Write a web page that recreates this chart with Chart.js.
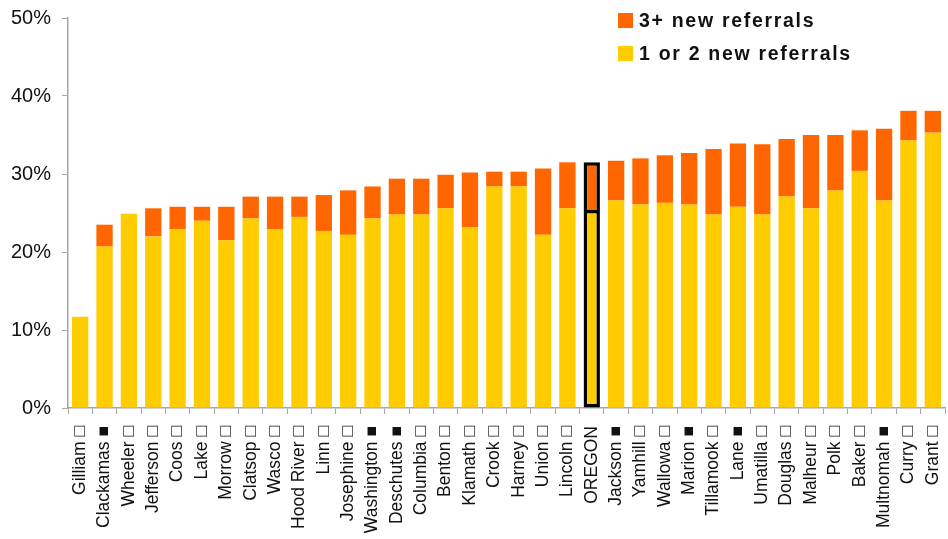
<!DOCTYPE html>
<html>
<head>
<meta charset="utf-8">
<script src="https://cdn.jsdelivr.net/npm/chart.js@4"></script>
<style>
body{margin:0;background:#fff;}
#wrap{position:relative;width:948px;height:539px;}
#legend{position:absolute;left:618px;top:4px;font-family:"Liberation Sans",Arial,sans-serif;font-weight:bold;font-size:19.5px;letter-spacing:1.7px;color:#111;}
#legend div{display:flex;align-items:center;height:33px;}
#legend span.box{display:inline-block;width:15px;height:15px;margin-right:6px;}
</style>
</head>
<body>
<div id="wrap">
<canvas id="chart" width="948" height="539"></canvas>
<div id="legend"></div>
</div>
<script>
// counties, ■ / □ markers as in the source chart
const categories = ["Gilliam □","Clackamas ■","Wheeler □","Jefferson □","Coos □","Lake □","Morrow □","Clatsop □","Wasco □","Hood River □",
"Linn □","Josephine □","Washington ■","Deschutes ■","Columbia □","Benton □","Klamath □","Crook □","Harney □","Union □",
"Lincoln □","OREGON","Jackson ■","Yamhill □","Wallowa □","Marion ■","Tillamook □","Lane ■","Umatilla □","Douglas □",
"Malheur □","Polk □","Baker □","Multnomah ■","Curry □","Grant □"]

const oneOrTwo = [11.7,20.7,24.9,22.0,22.9,24.0,21.5,24.3,22.9,24.5,
22.7,22.2,24.3,24.8,24.8,25.6,23.2,28.4,28.4,22.2,
25.6,25.4,26.6,26.1,26.3,26.1,24.8,25.8,24.8,27.1,
25.6,27.9,30.4,26.6,34.3,35.3]

const threePlus = [0,2.8,0,3.6,2.9,1.8,4.3,2.8,4.2,2.6,
4.6,5.7,4.1,4.6,4.6,4.3,7.0,1.9,1.9,8.5,
5.9,6.1,5.1,5.9,6.1,6.6,8.4,8.1,9.0,7.4,
9.4,7.1,5.2,9.2,3.8,2.8]

const yTicks = [0,10,20,30,40,50]

const highlight = "OREGON"
const borderCol = categories.map(c => c===highlight ? "#000" : "rgba(0,0,0,0)")
const borderW = categories.map(c => c===highlight ? 3.5 : 0)

const datasets = [
  {label:"1 or 2 new referrals",data:oneOrTwo,backgroundColor:"#FFCC00",borderColor:borderCol,borderWidth:borderW,borderSkipped:false},
  {label:"3+ new referrals",data:threePlus,backgroundColor:"#FF6600",borderColor:borderCol,borderWidth:borderW,borderSkipped:"start"}
]

// legend (top right, stacked), orange first
let html = ""
datasets.slice().reverse().forEach(d=>{
  html += `<div><span class="box" style="background:${d.backgroundColor}"></span>${d.label}</div>`
})
document.getElementById("legend").innerHTML = html

new Chart(document.getElementById("chart"),{
  type:"bar",
  data:{labels:categories,datasets:datasets},
  options:{
    responsive:false,
    animation:false,
    layout:{padding:{top:18,right:3,left:0,bottom:0}},
    plugins:{legend:{display:false},tooltip:{enabled:false}},
    datasets:{bar:{categoryPercentage:1,barPercentage:0.67}},
    scales:{
      x:{
        stacked:true,
        grid:{drawOnChartArea:false,drawTicks:true,tickLength:6,color:"#a6a6a6",offset:true},
        border:{display:true,color:"#a6a6a6",width:1.5},
        ticks:{autoSkip:false,maxRotation:90,minRotation:90,padding:12,color:"#111",
          font:{family:"'Liberation Sans', Arial, sans-serif",size:17.5}},
        afterFit:s=>{s.height=131;s.paddingLeft=0;s.paddingRight=0}
      },
      y:{
        stacked:true,min:0,max:50,
        afterBuildTicks:s=>{s.ticks=yTicks.map(v=>({value:v}))},
        grid:{drawOnChartArea:false,drawTicks:true,tickLength:6,color:"#a6a6a6"},
        border:{display:true,color:"#a6a6a6",width:1.5},
        ticks:{padding:11,color:"#111",callback:v=>v+"%",
          font:{family:"'Liberation Sans', Arial, sans-serif",size:20}},
        afterFit:s=>{s.width=68;s.paddingTop=0;s.paddingBottom=0}
      }
    }
  }
})
</script>
</body>
</html>
